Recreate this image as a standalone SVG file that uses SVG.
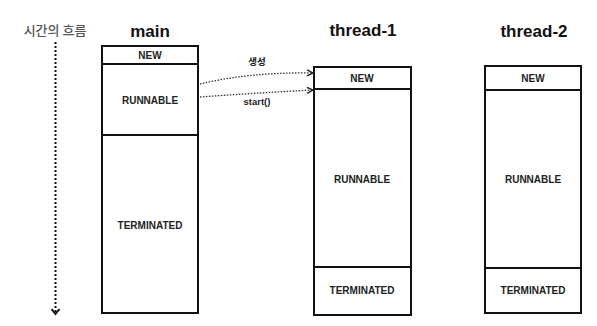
<svg xmlns="http://www.w3.org/2000/svg" width="597" height="326" viewBox="0 0 597 326">
<style>
.box{fill:#fff;stroke:#111;stroke-width:2}
.div{stroke:#111;stroke-width:2}
.st{font-family:"Liberation Sans",Arial,sans-serif;font-weight:bold;font-size:10px;fill:#222;text-anchor:middle}
.title{font-family:"Liberation Sans",Arial,sans-serif;font-weight:bold;font-size:17px;fill:#111;text-anchor:middle}
.lbl{font-family:"Liberation Sans","Noto Sans CJK KR",sans-serif;font-weight:bold;font-size:9.5px;fill:#222;text-anchor:middle}
.con{fill:none;stroke:#333;stroke-width:1.3;stroke-dasharray:1.5 1.5}
</style>
<defs>
<marker id="ah" markerWidth="8" markerHeight="8" refX="7" refY="4" orient="auto" markerUnits="userSpaceOnUse">
<path d="M1,1 L7,4 L1,7" fill="none" stroke="#222" stroke-width="1.4"/>
</marker>
<marker id="ah2" markerWidth="10" markerHeight="10" refX="5" refY="8" orient="0" markerUnits="userSpaceOnUse">
<path d="M1,3 L5,8 L9,3" fill="none" stroke="#111" stroke-width="2"/>
</marker>
</defs>
<rect width="597" height="326" fill="#fff"/>
<g id="time">
<text x="55" y="35" font-family="'Noto Sans CJK KR',sans-serif" font-size="13" font-weight="500" fill="#555" text-anchor="middle">시간의 흐름</text>
<line x1="55.5" y1="42" x2="55.5" y2="314" stroke="#111" stroke-width="2" stroke-dasharray="2 2" marker-end="url(#ah2)"/>
</g>
<g id="main">
<text class="title" x="150" y="37">main</text>
<rect class="box" x="102" y="46" width="96" height="267"/>
<line class="div" x1="102" y1="64" x2="198" y2="64"/>
<line class="div" x1="102" y1="135" x2="198" y2="135"/>
<text class="st" x="150" y="59">NEW</text>
<text class="st" x="150" y="104">RUNNABLE</text>
<text class="st" x="150" y="229">TERMINATED</text>
</g>
<g id="thread-1">
<text class="title" x="363" y="36">thread-1</text>
<rect class="box" x="314" y="67" width="97" height="248"/>
<line class="div" x1="314" y1="89" x2="411" y2="89"/>
<line class="div" x1="314" y1="267" x2="411" y2="267"/>
<text class="st" x="362" y="82">NEW</text>
<text class="st" x="362" y="183">RUNNABLE</text>
<text class="st" x="362" y="294">TERMINATED</text>
</g>
<g id="thread-2">
<text class="title" x="534" y="37">thread-2</text>
<rect class="box" x="485" y="66" width="96" height="247"/>
<line class="div" x1="485" y1="90" x2="581" y2="90"/>
<line class="div" x1="485" y1="268" x2="581" y2="268"/>
<text class="st" x="533" y="82">NEW</text>
<text class="st" x="533" y="183">RUNNABLE</text>
<text class="st" x="533" y="294">TERMINATED</text>
</g>
<g id="connectors">
<path class="con" d="M200,84 Q250,72 313,73" marker-end="url(#ah)"/>
<path class="con" d="M200,97 Q255,93 313,90" marker-end="url(#ah)"/>
<text class="lbl" x="257" y="65">생성</text>
<text class="lbl" x="257" y="105">start()</text>
</g>
</svg>
